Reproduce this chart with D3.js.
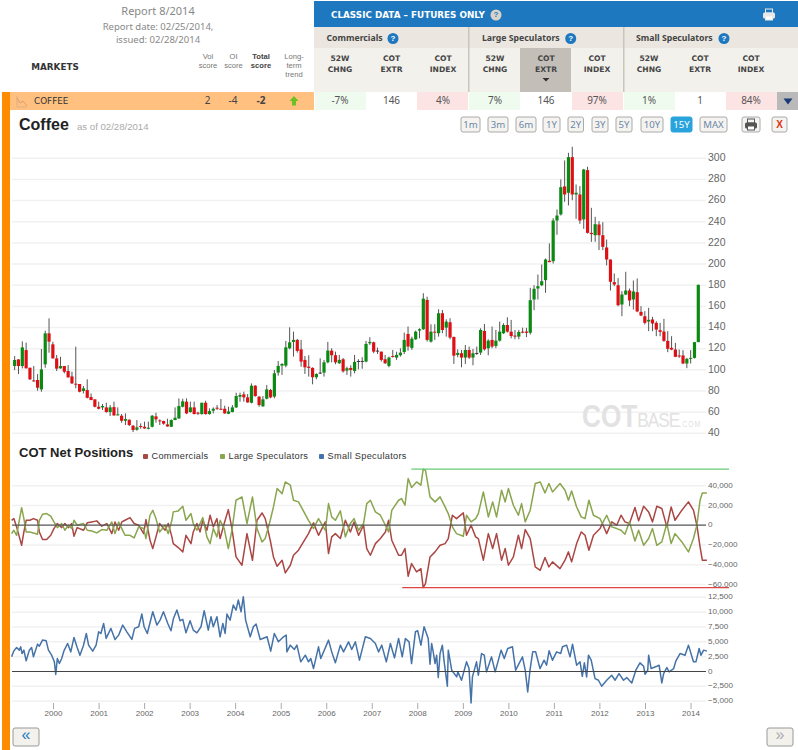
<!DOCTYPE html>
<html><head><meta charset="utf-8">
<script src="https://cdn.jsdelivr.net/npm/d3@7/dist/d3.min.js"></script>
<style>
html,body{margin:0;padding:0;background:#fff;overflow:hidden}
svg{display:block}
text{font-family:"Liberation Sans",Arial,sans-serif}
.tah{font-family:"Noto Sans",sans-serif}
.ver{font-family:"DejaVu Sans",sans-serif}
</style></head><body>
<svg id="c" width="798" height="750"></svg>
<script>
// ---------- DATA ----------
const priceTicks=[40,60,80,100,120,140,160,180,200,220,240,260,280,300];
const cotTicks=[40,20,0,-20,-40,-60];
const smallTicks=[12.5,10,7.5,5,2.5,0,-2.5,-5];
const rangeLabels=["1m","3m","6m","1Y","2Y","3Y","5Y","10Y","15Y","MAX"];
const groupNames=["Commercials","Large Speculators","Small Speculators"];
const rowValues=["-7%","146","4%","7%","146","97%","1%","1","84%"];
const scoreValues=["2","-4","-2"];

const opens=[103.6,109.9,103.6,118.7,102,90,90.4,81.5,105.2,134.5,
124.1,110.8,101.4,103.6,98.9,93.8,86.9,86.6,80,80.9,
74.3,72.1,65.1,64.5,64.5,60.1,64.8,57.3,56.6,51.9,
52.8,47.2,43.4,46.9,46.2,44.3,46.2,56,52.2,51.6,
48.4,46.2,52.5,54.1,65.1,69.9,60.1,64.5,59.5,58.2,
68.9,58.2,61.4,64.2,63.2,63.2,58.5,60.1,64.5,74.6,
76.8,74,68.9,85,74.6,65.5,72.7,81,74.7,97.4,
104,104,120.4,126.4,128.3,119.4,109.4,103,101.8,93,
97.4,97.4,107.1,118.2,113.8,106.2,110,99.3,101.8,99,
108.4,108.4,107.8,125.1,126,118.2,117.2,110,103.7,113.1,
111.6,113.8,116.9,133.9,120.7,128.9,137.1,138.4,166.1,126.7,
136.1,134.6,153.5,139.9,145,131.1,114.1,115.7,111.6,118.8,
111.6,116,116.3,136.8,120.4,128.3,122.6,127.6,134.6,142.4,
136.1,132.4,131.4,136.1,136.2,135,166.5,176.9,180,184.8,
203.1,202.7,241.2,246.9,273.4,267.4,301.1,265.8,265.8,242.2,
288.8,229.5,227.3,237.4,227.3,215.7,204.3,182.9,180,161.8,
171.2,175,166.5,173.4,154.8,150.7,145.7,147.6,144.4,137.5,
136.2,127.4,120.8,119.2,113.6,113.6,106,110.4,111.3,126.2];
const highs=[113,109.9,126.9,125.7,102,103.6,96,119.7,137,148.7,
126.6,114,112.4,103.6,104.5,98.2,121.9,86.6,84.7,91,
77.7,72.1,69.9,67.7,68.9,66.7,69.9,64.5,58.2,58.8,
53.2,47.8,52.5,49.4,51,51,57.3,59.5,53.2,51.9,
53.8,53.2,64.5,73,72.7,73,69.9,69.9,60.4,68.9,
70.8,63.6,64.5,66.7,72.4,66.1,65.1,66.7,78.4,78.4,
79.3,77.1,87.2,85.6,75.2,75.2,85.6,82,99.9,108.4,
106.2,127.3,140.2,136.1,129.2,128.3,113.1,113.8,102.4,96.7,
110.9,109.4,126.4,120.4,117.2,114.1,111.2,103,104.3,114.1,
110,112,127.3,130.8,126.7,121,117.2,114.1,112.5,118.8,
117.2,120.4,135.2,140.9,131.4,137.1,139.3,172.4,169.2,143.1,
143.1,157.3,156.6,147.8,148.8,131.4,119.4,118.8,123.5,122,
119.8,122,139.3,143.4,128.9,140.9,137.7,145.6,144,149.7,
147.2,137.7,137.7,139.9,139.7,177.5,180,190.1,199.6,205.3,
219.5,243.4,251.6,280,298,305.2,310.9,275.2,273.7,290,
292,253.2,244.7,240.6,239.6,223.2,204.3,191.1,186.7,174.4,
192.7,176.9,184.5,186.4,160.2,155.5,158.6,150.1,146,144.4,
148.2,136.6,131.8,125.5,119.2,118.6,111.3,118.6,126.2,180.4];
const lows=[99.8,96,101.4,101.4,90.4,88.8,80.3,79.3,102,116.2,
110.8,98.9,101.1,96.7,92.6,86.6,82.5,78.7,77.7,73,
71.4,64.5,62.6,62,59.5,56.3,56.6,56.9,50,47.8,
46.9,41.2,42.4,44.3,44.3,43.7,45.6,50,47.8,48.1,
46.2,45.9,52.5,53.5,64.5,58.2,59.5,57.9,57.3,57.6,
57.6,57.6,58.8,62,62,58.5,58.2,59.8,63.9,69.9,
69.9,68.9,68.3,74.6,65.1,65.1,72.1,73.1,73.1,94.5,
95.2,102.4,119.4,112.5,116.3,103,96.1,93.6,86.3,91.1,
96.1,93.6,106.2,107.1,105.3,105.6,97.4,95.2,93.6,96.7,
100.5,101,107.1,123.5,115.7,115,107.8,105.6,102.4,111.6,
109.4,112.5,115,118.2,118.8,128.3,129.8,137.7,126.7,125.7,
128.3,131.4,134.6,131.4,128.9,105.6,111.9,102.4,105.6,110.3,
104.3,114.1,114.1,118.2,113.8,120.4,120.4,126.7,133.9,135.2,
129.8,128.9,128.9,134.6,130.9,133.4,156.4,166.5,179.1,172.8,
201.8,200.5,227.7,245.9,258.9,255.4,260.4,242.8,238,233.3,
228.9,221,221,213.2,213.2,198.7,175,179.1,160.2,150.7,
170.6,160.2,157,154.5,150.7,142.9,136.6,136.6,131.8,131.8,
126.5,116.7,118.6,112,111.3,105.4,101.6,106,110.7,126.2];
const closes=[109.3,103.6,121.2,101.4,91,89.4,83.1,100.4,134.5,126.6,
110.8,101.1,103.6,98.2,92.9,87.2,86.3,79.3,82.5,73.6,
71.4,65.1,63.2,65.8,60.1,64.5,56.9,57.9,51.9,53.5,
47.8,43.1,45.6,45.9,44.6,45.3,56.6,53.2,51.3,49.1,
46.5,52.5,54.7,65.8,70.2,58.8,64.5,58.2,58.5,68.9,
58.2,61,63.2,63.6,62.6,58.8,60.7,64.5,75.2,76.2,
74,69.2,85,75.2,66.7,72.1,81.5,74,96.7,103.7,
105.6,121.3,126,128.3,117.9,107.8,102.4,101.8,93,96.1,
97.4,107.1,118.2,113.8,107.1,109.4,98.6,101.5,99.9,107.5,
108.4,108.4,124.5,126.4,117.2,118.2,109.4,106.2,111.6,112.5,
114.1,116.3,128.3,122,129.5,136.1,138.4,167.3,128.3,136.1,
135.2,153.5,137.7,145.6,130.5,113.4,116,111.6,118.8,111.6,
115.7,116,137.7,119.4,127.6,122,127.6,136.1,142.4,136.1,
132,131.4,135.8,135.2,135,165.9,176.6,179.1,183.8,204.3,
201.8,241.2,245.9,272.7,265.8,301.1,265.8,267.4,241.2,289.4,
229.5,228.3,237.7,227.3,216.3,204.3,183.2,180.7,161.1,171.2,
175,165.6,174.1,155.2,151.4,144.4,147.3,143.8,138.1,135.9,
127.4,119.9,119.2,112.3,112.6,106,110.4,111.3,126.2,180.4];

// COT net positions, thousands of contracts, at decimal-year dates
const cotYears=[1999.09,1999.14,1999.20,1999.26,1999.31,1999.36,1999.41,1999.49,1999.57,1999.66,
1999.70,1999.77,1999.86,1999.95,2000.02,2000.095,2000.19,2000.26,2000.34,2000.41,
2000.46,2000.53,2000.67,2000.75,2000.85,2000.96,2001.07,2001.18,2001.29,2001.36,
2001.44,2001.51,2001.58,2001.69,2001.78,2001.88,2001.99,2002.04,2002.13,2002.19,
2002.26,2002.34,2002.46,2002.53,2002.61,2002.64,2002.75,2002.85,2002.92,2003.03,
2003.08,2003.16,2003.23,2003.29,2003.38,2003.45,2003.52,2003.60,2003.67,2003.76,
2003.85,2003.93,2004.02,2004.15,2004.26,2004.38,2004.48,2004.59,2004.66,2004.77,
2004.84,2004.92,2005.03,2005.10,2005.21,2005.28,2005.39,2005.61,2005.72,2005.83,
2005.98,2006.05,2006.12,2006.20,2006.31,2006.42,2006.53,2006.61,2006.71,2006.82,
2006.89,2006.97,2007.08,2007.19,2007.30,2007.37,2007.44,2007.59,
2007.655,2007.73,2007.80,2007.875,2007.985,2008.08,2008.13,2008.18,2008.28,2008.39,
2008.50,2008.61,2008.68,2008.77,2008.86,2009.01,2009.08,2009.18,2009.28,2009.34,
2009.45,2009.56,2009.655,2009.74,2009.85,2009.93,2010.0,2010.11,2010.22,2010.29,
2010.37,2010.48,2010.59,2010.70,2010.805,2010.89,2010.97,2011.135,2011.245,2011.32,
2011.39,2011.50,2011.60,2011.685,2011.77,2011.87,2012.015,2012.065,2012.16,2012.27,
2012.38,2012.475,2012.56,2012.66,2012.78,2012.86,2012.97,2013.08,2013.165,2013.26,
2013.37,2013.48,2013.575,2013.66,2013.81,2013.955,2014.065,2014.14,2014.21,2014.26,
2014.36];
const largeSpeculators=[-8.5,-5.1,-10.2,5,17.8,6.7,-6.8,-6.8,-7.8,-9.1,
5,11.1,11.8,9.1,3.3,-2.4,1.7,-5.1,0,-3.4,
5,0,1.7,-5.1,-5.8,-7.8,-4.4,-5.1,3.3,-8.5,
3.3,-3.4,-10.2,-10.2,-12.9,-1.7,-3.4,-13.5,10.1,15.1,
6.7,-6.8,0,-8.5,5,13.5,14.5,19.2,5,11.8,
1.7,-5.1,1.7,7.7,-11.8,-18.6,-3.4,-11.8,5,-3.4,
-23.7,-5.1,25.3,28.6,1.7,28.6,-3.4,-16.9,-13.5,5,
18.5,37.1,32,43.8,40.5,25.3,23.6,5,-3.4,6.7,
-5.1,21.9,8.4,5,14.5,-11.8,1.7,6.7,-5.1,1.7,
21.9,25.3,13.5,10.1,0,-6.8,15.1,25.3,
27,20.2,47.2,38.1,43.8,40.5,56.7,55.7,28.7,23.6,
28.7,18.5,11.8,-1.7,-8.5,-11.1,10.1,3.4,6.7,11.8,
33.7,8.4,23.6,8.4,35.4,23.6,37.1,20.2,10.1,21.9,
3.4,15.2,42.2,43.8,32.7,42.2,33.7,42.2,35.4,25.3,
34.7,18.5,8.4,6.7,25.3,10.1,6.7,1.7,10.1,-1.7,
-3.4,-5.1,-9.1,3.4,-15.9,-5.1,-20.3,-13.5,-3.4,-20.3,
-16.9,1.7,-18.6,-8.5,-16.9,-27,-13.5,0,25.3,32.7,
32.7];
const commercials=[5,6.7,-1.7,-11.8,-20.3,-6.8,5,5,6.7,5,
-6.8,-14.5,-14.5,-10.2,-3.4,1.7,-2.4,1.7,-2.4,1.7,
-11.2,-2.4,-5.1,2.4,3.3,4.4,-1,1.7,-8.5,3.3,
-5.1,3.3,5,7.7,1.7,0,-8.5,5.7,-15.2,-23.7,
-11.8,1.7,-5.1,1.7,-11.8,-18.6,-22.6,-27,-10.2,-18.6,
-6.8,1.7,-6.8,5,-5.1,10.1,-1.7,6.7,-13.5,1.7,
15.8,-3.4,-32.1,-40.5,-8.5,-35.5,5,12.4,6.7,-15.2,
-32.1,-41.5,-35.5,-48.3,-40.5,-30.4,-25.3,-8.5,2.4,-10.2,
3.3,-28.7,-11.8,-8.5,-13.5,5,-6.8,3.3,-10.2,0,
-23.7,-30.4,-18.6,-13.5,-6.8,5,-15.2,-30.4,
-30.4,-23.6,-51.6,-38.8,-47.2,-43.9,-63.1,-59,-32.1,-27,
-20.3,-18.6,-13.5,10.1,6.7,12.5,-10.1,0,-11.8,-13.5,
-35.4,-8.5,-23.6,-8.5,-35.4,-23.6,-40.5,-32.1,-10.1,-23.6,
-4.4,-13.5,-42.2,-45.6,-32.7,-42.2,-37.1,-43.9,-35.4,-27,
-37.1,-18.6,-6.8,-10.1,-25.3,-10.1,-3.4,1.7,-8.5,3.4,
0,10.1,3.4,1.7,17.9,4.4,19.2,13.5,3.4,19.2,
16.9,-1.7,18.5,5,15.2,23.6,15.2,0,-21.9,-35.4,
-35.4];

const smallYears=[1999.09,1999.14,1999.20,1999.26,1999.29,1999.32,1999.36,1999.41,1999.48,1999.53,
1999.57,1999.66,1999.70,1999.77,1999.85,1999.90,1999.97,2000.03,2000.06,2000.095,
2000.14,2000.19,2000.24,2000.32,2000.39,2000.46,2000.53,2000.59,2000.67,2000.73,
2000.78,2000.87,2000.945,2001.0,2001.05,2001.11,2001.165,2001.27,2001.36,2001.44,
2001.53,2001.62,2001.73,2001.79,2001.88,2001.95,2002.0,2002.07,2002.19,2002.28,
2002.35,2002.425,2002.52,2002.59,2002.645,2002.72,2002.79,2002.85,2002.92,2003.01,
2003.08,2003.16,2003.25,2003.32,2003.41,2003.47,2003.52,2003.60,2003.67,2003.73,
2003.78,2003.82,2003.89,2003.96,2004.02,2004.07,2004.13,2004.18,2004.23,2004.33,
2004.40,2004.46,2004.55,2004.70,2004.78,2004.86,2004.95,2005.06,2005.12,2005.135,
2005.21,2005.30,2005.355,2005.44,2005.54,2005.61,2005.66,2005.72,2005.83,2005.88,
2006.05,2006.12,2006.20,2006.31,2006.38,2006.49,2006.56,2006.64,2006.73,2006.86,
2006.97,2007.08,2007.15,2007.22,2007.32,2007.41,2007.50,2007.59,2007.67,2007.74,
2007.82,2007.875,2007.96,2008.01,2008.08,2008.15,2008.24,2008.28,2008.315,2008.35,
2008.39,2008.425,2008.46,2008.50,2008.55,2008.59,2008.66,2008.68,2008.755,2008.865,
2008.89,2008.97,2009.08,2009.135,2009.18,2009.21,2009.30,2009.34,2009.41,2009.47,
2009.52,2009.63,2009.71,2009.84,2009.91,2009.985,2010.09,2010.16,2010.31,2010.37,
2010.425,2010.475,2010.535,2010.60,2010.695,2010.785,2010.84,2010.895,2010.97,2011.06,
2011.15,2011.19,2011.28,2011.355,2011.41,2011.50,2011.575,2011.625,2011.67,2011.72,
2011.76,2011.82,2011.905,2011.98,2012.05,2012.16,2012.27,2012.345,2012.43,2012.53,
2012.60,2012.71,2012.80,2012.89,2012.97,2013.0,2013.06,2013.08,2013.135,2013.26,
2013.31,2013.37,2013.41,2013.48,2013.53,2013.63,2013.68,2013.77,2013.88,2013.955,
2014.065,2014.12,2014.19,2014.23,2014.29,2014.36];
const smallSpeculators=[2.47,3.48,4.05,3.6,4.16,3.03,3.6,1.8,3.6,4.05,
2.47,4.61,4.27,5.29,5.17,3.6,2.75,1.63,-0.51,2.19,
1.34,2.19,3.48,4.72,3.31,5.74,4.05,2.75,4.44,6.41,
4.44,3.43,4.44,6.69,6.41,8.1,5.57,7.26,5.4,6.13,
7.82,6.69,5.4,7.26,7.54,9.68,7.54,6.41,10.07,7.82,
8.66,10.07,8.1,6.86,8.94,10.35,8.55,8.78,6.52,8.55,
6.97,6.52,7.54,10.24,6.97,9.23,7.54,9.23,5.85,8.1,
6.41,9.68,8.66,11.2,10.35,12.04,10.07,12.6,8.66,5.85,
7.54,7.99,5.4,5.85,3.43,6.41,5,5.85,6.13,3.31,
4.44,3.71,4.44,1.63,2.75,1.63,2.19,0.5,4.16,2.19,
5.29,3.31,1.46,4.44,3.31,5,3.71,5,1.91,5.85,
5.57,4.72,3.31,4.44,1.63,4.72,2.3,5.57,2.47,5.57,
5,1.34,6.69,6.86,4.44,7.54,5.57,1.23,4.72,3.31,
1.34,2.75,-1.02,3.03,4.44,1.63,-2.48,3.6,0.22,-0.91,
-0.06,-1.47,1.63,0.5,-5.3,-0.91,1.63,-0.63,3.03,2.75,
-0.06,2.47,-0.06,3.6,2.19,3.88,4.16,0.22,2.47,0.22,
-3.44,0.22,3.31,3.31,0.5,1.91,1.06,3.48,1.91,3.31,
3.03,4.16,4.44,2.47,4.61,1.06,1.63,-0.8,1.46,-0.91,
2.75,1.91,-1.19,-1.47,-2.48,-1.47,-0.63,-1.47,-0.35,-1.47,
-1.02,-1.92,0.22,1.46,0.89,-0.46,0.22,2.75,0.5,0.89,
1.06,-1.92,-0.35,0.67,-0.06,0.5,1.8,3.03,2.75,4.44,
1.63,1.63,3.88,2.75,3.6,3.43];

// ---------- SCALES ----------
const toDate=y=>{const Y=Math.floor(y);const a=+new Date(Y,0,1),b=+new Date(Y+1,0,1);return new Date(a+(y-Y)*(b-a));};
const x=d3.scaleTime().domain([new Date(2000,0,1),new Date(2014,0,1)]).range([53,690.5]);
const months=d3.range(opens.length).map(i=>new Date(1999,2+i,1));
const xc=d3.scalePoint().domain(months).range([14.67,698.3]);
const yP=d3.scaleLinear().domain([40,300]).range([433.3,158.3]);
const yC=d3.scaleLinear().domain([-60,40]).range([584.5,485.7]);
const yS=d3.scaleLinear().domain([-5,12.5]).range([701.2,597.3]);
const X0=12,X1=706;

const svg=d3.select("#c");
const rect=(x,y,w,h,f,extra={})=>{const r=svg.append("rect").attr("x",x).attr("y",y).attr("width",w).attr("height",h).attr("fill",f);for(const k in extra)r.attr(k,extra[k]);return r;};
const txt=(s,x,y,o={})=>{const t=svg.append("text").attr("x",x).attr("y",y).text(s).attr("text-anchor",o.a||"middle").attr("font-size",o.s||10).attr("fill",o.c||"#666").attr("dominant-baseline","middle");
 if(o.b)t.attr("font-weight","bold");if(o.cl)t.attr("class",o.cl);if(o.ls)t.attr("letter-spacing",o.ls);return t;};

// ---------- HEADER ----------
txt("Report 8/2014",158,12.5,{s:11,c:"#888",cl:"tah"});
txt("Report date: 02/25/2014,",158,27.5,{s:9.5,c:"#888",cl:"tah"});
txt("issued: 02/28/2014",158,40.5,{s:9.5,c:"#888",cl:"tah"});
txt("MARKETS",55,67,{s:8.8,b:1,c:"#333",cl:"ver"});
const hs=7.6;
[["Vol","score",208],["OI","score",233.5]].forEach(d=>{txt(d[0],d[2],57,{s:hs,c:"#777"});txt(d[1],d[2],66,{s:hs,c:"#777"});});
txt("Total",261,57,{s:hs,b:1,c:"#444"});txt("score",261,66,{s:hs,b:1,c:"#444"});
txt("Long-",294,56.5,{s:hs,c:"#777"});txt("term",294,65.5,{s:hs,c:"#777"});txt("trend",294,74.5,{s:hs,c:"#777"});

rect(314,1,484,26,"#1e78bf");
txt("CLASSIC DATA – FUTURES ONLY",331,15,{a:"start",s:8.8,b:1,c:"#fff",cl:"ver"});
svg.append("circle").attr("cx",496).attr("cy",15).attr("r",5.5).attr("fill","#d8d4cc");
txt("?",496,15.3,{s:8,b:1,c:"#1e78bf"});
const printIcon=(cx,cy,c)=>{rect(cx-3.5,cy-6,7,4,"none",{stroke:c,"stroke-width":1});rect(cx-6,cy-2.5,12,6,c,{rx:1.5});rect(cx-3.5,cy+1,7,4,"#fff",{stroke:c,"stroke-width":1});};
printIcon(769,15,"#e8e8e8");

rect(314,27,484,21,"#ebe7e0");
rect(314,48,484,44,"#f3f1ec");
rect(520,48,51,44,"#c3bfb8");
[468,623].forEach(v=>rect(v,27,1.5,65,"#c9c5bd"));
[[326.5,393],[482,570.7],[636,724]].forEach((d,i)=>{
 txt(groupNames[i],d[0],38.5,{a:"start",s:8.7,b:1,c:"#444",cl:"tah"});
 svg.append("circle").attr("cx",d[1]).attr("cy",38.5).attr("r",5.5).attr("fill","#1e78bf");
 txt("?",d[1],38.8,{s:8,b:1,c:"#fff"});
});
const colX=[340,391.5,443,495,546,597,649,700,751];
const colH=[["52W","CHNG"],["COT","EXTR"],["COT","INDEX"]];
colX.forEach((v,i)=>{const h=colH[i%3];txt(h[0],v,58.5,{s:7.6,b:1,c:"#444",cl:"ver"});txt(h[1],v,70,{s:7.6,b:1,c:"#444",cl:"ver"});});
svg.append("path").attr("d","M542.5 78h7l-3.5 3.5z").attr("fill","#333");

// market row
rect(2,92,312,18,"#ffc080");
rect(2,92,8,658,"#ff8c00");
[[315,51,"#f0fbf0"],[417,51,"#fde4e4"],[469,51,"#f0fbf0"],[572,51,"#fde4e4"],[624,51,"#f0fbf0"],[726,51,"#fde4e4"]].forEach(d=>rect(d[0],92,d[1],18,d[2]));
rect(777,92,21,18,"#b9b9b9");
svg.append("path").attr("d","M783.5 98.5h9l-4.5 6z").attr("fill","#1a3a78");
svg.append("path").attr("d","M17 96v11h10").attr("fill","none").attr("stroke","#e0b080").attr("stroke-width",1);
svg.append("path").attr("d","M17 98l3 5 3-2 4 5").attr("fill","none").attr("stroke","#d8a070").attr("stroke-width",1);
txt("COFFEE",34,101.5,{a:"start",s:8.8,c:"#333",cl:"ver"});
[[207.5,0],[233,0],[261,1]].forEach((d,i)=>txt(scoreValues[i],d[0],101.5,{s:10,b:d[1],c:"#444",cl:"tah"}));
svg.append("path").attr("d","M294 96l4.5 5h-2.5v4.5h-4v-4.5h-2.5z").attr("fill","#6cc024");
colX.forEach((v,i)=>txt(rowValues[i],v,101.5,{s:10,c:"#555",cl:"tah"}));

// ---------- TITLE & RANGE BUTTONS ----------
txt("Coffee",19,126,{a:"start",s:16,b:1,c:"#222"});
txt("as of 02/28/2014",77,127.5,{a:"start",s:9.6,c:"#aaa"});
const rangeBox=[[461,19],[488,20],[516,20],[543,17],[568,15.5],[592,16],[616,16],[641,22],[671,21],[700,27]];
rangeLabels.forEach((l,i)=>{const b=rangeBox[i];const on=l==="15Y";
 rect(b[0],117,b[1],15,on?"#29a3dc":"#f5f3ef",{rx:2,stroke:on?"#29a3dc":"#aaa","stroke-width":1});
 txt(l,b[0]+b[1]/2,125,{s:9.6,c:on?"#fff":"#6a87a8",cl:"tah"});});
rect(742,117,18,15,"#f5f3ef",{rx:2,stroke:"#aaa"});printIcon(751,125,"#555");
rect(772,117,15,15,"#f5f3ef",{rx:2,stroke:"#aaa"});txt("X",779.5,125,{s:10,b:1,c:"#e03010"});

// ---------- PRICE PANEL ----------
const grid=(ticks,sc)=>svg.append("g").selectAll("line").data(ticks).join("line").attr("x1",X0).attr("x2",X1).attr("y1",d=>sc(d)).attr("y2",d=>sc(d)).attr("stroke","#f1f1f1").attr("stroke-width",1.5);
grid(priceTicks,yP);
const yAxisTxt=(ticks,sc,fs,fmt)=>svg.append("g").selectAll("text").data(ticks).join("text").attr("x",708).attr("y",d=>sc(d)).attr("dominant-baseline","middle").attr("font-size",fs).attr("fill","#666").text(fmt);
yAxisTxt(priceTicks,yP,10.5,d=>d);

// watermark: one text, so its three parts sit side by side
const wm=svg.append("text").attr("transform","translate(582,427) scale(.82,1)").attr("fill","#e2e2e2");
wm.append("tspan").attr("font-size",32).attr("font-weight","bold").text("COT");
wm.append("tspan").attr("font-size",21).attr("letter-spacing",-1.2).text("BASE");
wm.append("tspan").attr("font-size",8.4).attr("letter-spacing",1.2).text(".COM");

const candles=months.map((m,i)=>({m,o:opens[i],h:highs[i],l:lows[i],c:closes[i]}));
const cg=svg.append("g");
cg.selectAll("line").data(candles).join("line").attr("x1",d=>xc(d.m)).attr("x2",d=>xc(d.m)).attr("y1",d=>yP(d.h)).attr("y2",d=>yP(d.l)).attr("stroke","#555").attr("stroke-width",1);
cg.selectAll("rect").data(candles).join("rect").attr("x",d=>xc(d.m)-1.6).attr("width",3.2)
 .attr("y",d=>yP(Math.max(d.o,d.c))).attr("height",d=>Math.max(1,Math.abs(yP(d.o)-yP(d.c))))
 .attr("fill",d=>d.c>d.o?"#0a8a12":d.c<d.o?"#dd1015":"#333");

// ---------- COT PANEL ----------
txt("COT Net Positions",19,454,{a:"start",s:13,b:1,c:"#222"});
[[143,"#aa4643"],[220,"#89a54e"],[319,"#4572a7"]].forEach((d,i)=>{
 rect(d[0],454,5,5,d[1],{rx:1});txt(groupNames[i],d[0]+8.5,456.5,{a:"start",s:9.2,c:"#333",ls:.3});});
grid(cotTicks.filter(d=>d),yC);
yAxisTxt(cotTicks,yC,8.1,d=>d3.format(",")(d*1000));
const line=(ys,sc)=>d3.line().x(d=>x(toDate(d))).y((d,i)=>sc(ys[i]));
const draw=(yrs,ys,sc,col,w)=>svg.append("path").datum(yrs).attr("d",line(ys,sc)).attr("fill","none").attr("stroke",col).attr("stroke-width",w).attr("stroke-linejoin","round");
draw(cotYears,commercials,yC,"#aa4643",1.5);
draw(cotYears,largeSpeculators,yC,"#89a54e",1.5);
svg.append("line").attr("x1",X0).attr("x2",X1).attr("y1",yC(0)).attr("y2",yC(0)).attr("stroke","#555").attr("stroke-width",1.2);
// extreme markers
const cotHigh=d3.max(largeSpeculators),cotLow=d3.min(commercials);
svg.append("line").attr("x1",x(toDate(2007.87))).attr("x2",729).attr("y1",yC(cotHigh)).attr("y2",yC(cotHigh)).attr("stroke","#66cc77").attr("stroke-width",1.2);
svg.append("line").attr("x1",x(toDate(2007.67))).attr("x2",729).attr("y1",yC(cotLow)).attr("y2",yC(cotLow)).attr("stroke","#dd4444").attr("stroke-width",1.2);

// ---------- SMALL SPEC PANEL ----------
grid(smallTicks.filter(d=>d),yS);
yAxisTxt(smallTicks,yS,8.1,d=>d3.format(",")(d*1000));
draw(smallYears,smallSpeculators,yS,"#4572a7",1.5);
svg.append("line").attr("x1",X0).attr("x2",X1).attr("y1",yS(0)).attr("y2",yS(0)).attr("stroke","#444").attr("stroke-width",1.2);

// time axis
const ax=d3.axisBottom(x).ticks(d3.timeYear.every(1)).tickFormat(d3.timeFormat("%Y")).tickSize(6).tickSizeOuter(0);
const axg=svg.append("g").attr("transform","translate(0,703)").call(ax);
axg.select(".domain").remove();
axg.selectAll(".tick").filter(d=>d<new Date(2000,0,1)||d>new Date(2014,0,1)).remove();
axg.selectAll("line").attr("stroke","#aaa");
axg.selectAll("text").attr("font-size",8).attr("fill","#666").attr("font-family","Liberation Sans").attr("y",7).attr("dy",".71em");

// ---------- BOTTOM BUTTONS ----------
rect(13,728,26,18,"#f3f1ec",{rx:2,stroke:"#999"});txt("«",26,735.5,{s:16,c:"#1e78bf"});
rect(767,728,26,18,"#f3f1ec",{rx:2,stroke:"#999"});txt("»",780,735.5,{s:16,c:"#aaa"});
</script>
</body></html>
